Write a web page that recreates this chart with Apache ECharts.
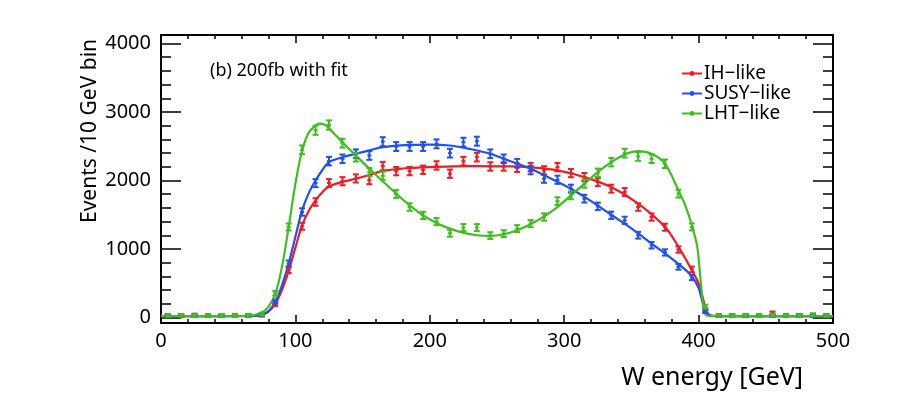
<!DOCTYPE html>
<html>
<head>
<meta charset="utf-8">
<script src="https://cdn.jsdelivr.net/npm/echarts@6/dist/echarts.min.js"></script>
<style>
  html, body { margin: 0; padding: 0; background: #fff; }
  #main { width: 913px; height: 399px; }
</style>
</head>
<body>
<div id="main"></div>
<script>
// bin centres (10 GeV bins)
var binX = [5, 15, 25, 35, 45, 55, 65, 75, 85, 95,
  105, 115, 125, 135, 145, 155, 165, 175, 185, 195,
  205, 215, 225, 235, 245, 255, 265, 275, 285, 295,
  305, 315, 325, 335, 345, 355, 365, 375, 385, 395,
  405, 415, 425, 435, 445, 455, 465, 475, 485, 495];

var ihData = [30, 25, 35, 28, 30, 33, 30, 35, 196, 690,
  1332, 1686, 1962, 1990, 2030, 2005, 2210, 2137, 2137, 2157,
  2220, 2099, 2283, 2341, 2205, 2205, 2186, 2195, 2147, 2195,
  2108, 2050, 1977, 1881, 1832, 1613, 1467, 1318, 993, 702,
  110, 28, 30, 26, 30, 65, 28, 30, 35, 30];

var susyData = [30, 28, 32, 30, 27, 31, 30, 40, 230, 789,
  1540, 1962, 2283, 2317, 2390, 2365, 2567, 2496, 2496, 2496,
  2535, 2399, 2559, 2574, 2390, 2317, 2253, 2152, 2026, 2011,
  1881, 1735, 1623, 1492, 1419, 1201, 1055, 950, 740, 585,
  90, 30, 28, 31, 30, 29, 32, 30, 28, 30];

var lhtData = [30, 32, 28, 30, 31, 29, 33, 50, 356, 1322,
  2448, 2734, 2810, 2545, 2340, 2122, 2070, 1803, 1613, 1490,
  1400, 1230, 1313, 1313, 1196, 1225, 1298, 1371, 1467, 1700,
  1783, 1953, 2113, 2268, 2399, 2351, 2317, 2244, 1808, 1322,
  160, 30, 28, 32, 30, 35, 30, 28, 40, 30];

// fit curves: [W energy, events]
var ihFit = [[0, 20], [70, 22], [75, 40], [80, 90], [85, 200], [90, 400], [95, 680], [100, 1020],
  [105, 1346], [110, 1560], [115, 1710], [120, 1830], [125, 1914], [135, 1980], [145, 2026],
  [155, 2080], [165, 2140], [180, 2175], [200, 2195], [230, 2210], [260, 2205], [280, 2185],
  [295, 2147], [315, 2050], [335, 1904], [355, 1662], [375, 1322], [385, 1031], [395, 691],
  [400, 498], [403, 300], [406, 80], [409, 30], [415, 20], [500, 20]];

var susyFit = [[0, 20], [70, 22], [75, 40], [80, 90], [85, 230], [90, 470], [95, 789], [100, 1180],
  [105, 1565], [110, 1820], [115, 2001], [120, 2150], [125, 2268], [135, 2340], [145, 2390],
  [155, 2440], [165, 2486], [185, 2521], [200, 2525], [215, 2511], [230, 2460], [245, 2390],
  [260, 2280], [275, 2172], [290, 2030], [305, 1880], [320, 1700], [335, 1500], [350, 1300],
  [365, 1080], [380, 860], [390, 700], [395, 600], [400, 430], [403, 220], [406, 60],
  [409, 30], [415, 20], [500, 20]];

var lhtFit = [[0, 20], [65, 22], [70, 40], [75, 70], [80, 160], [85, 340], [90, 740], [95, 1322],
  [100, 1953], [105, 2438], [110, 2700], [115, 2802], [118, 2830], [122, 2815], [125, 2760],
  [130, 2660], [135, 2559], [145, 2365], [155, 2172], [165, 1990], [175, 1808], [185, 1638],
  [195, 1492], [205, 1380], [215, 1298], [225, 1235], [235, 1201], [245, 1191], [255, 1215],
  [265, 1274], [275, 1361], [285, 1477], [295, 1613], [305, 1783], [315, 1953], [325, 2122],
  [335, 2268], [345, 2380], [355, 2428], [365, 2390], [375, 2244], [385, 1856], [390, 1640],
  [395, 1346], [399, 1031], [401.5, 546], [404, 109], [406.5, 25], [410, 20], [500, 20]];

var names = ['IH\u2212like', 'SUSY\u2212like', 'LHT\u2212like'];
var colors = ['#f01c24', '#2050f0', '#3fbf1f'];

var font = 'Noto Sans';
var yMin = -80, yMax = 4124;

function pairs(xs, ys) {
  var out = [];
  for (var i = 0; i < xs.length; i++) out.push([xs[i], ys[i]]);
  return out;
}

// data point with poisson error bar, drawn like ROOT's E1 style
function errRender(color) {
  return function (params, api) {
    var x = api.value(0), v = api.value(1), e = Math.sqrt(Math.max(v, 0));
    var c = api.coord([x, v]);
    var top = api.coord([x, v + e])[1];
    var bot = api.coord([x, v - e])[1];
    var st = { stroke: color, lineWidth: 2 };
    return {
      type: 'group',
      children: [
        { type: 'line', shape: { x1: c[0], y1: top - 1, x2: c[0], y2: bot + 1 }, style: st },
        { type: 'line', shape: { x1: c[0] - 3, y1: top - 1, x2: c[0] + 3, y2: top - 1 }, style: st },
        { type: 'line', shape: { x1: c[0] - 3, y1: bot + 1, x2: c[0] + 3, y2: bot + 1 }, style: st },
        { type: 'line', shape: { x1: c[0] - 2, y1: c[1], x2: c[0] + 2, y2: c[1] }, style: st }
      ]
    };
  };
}

function fitSeries(i, data) {
  return {
    name: names[i],
    type: 'line',
    data: data,
    smooth: 0.35,
    symbol: 'circle',
    symbolSize: 3,
    showSymbol: false,
    lineStyle: { color: colors[i], width: 2.2 },
    itemStyle: { color: colors[i] },
    z: 3 + i,
    silent: true,
    animation: false
  };
}

function pointSeries(i, vals) {
  return {
    name: names[i] + ' data',
    type: 'custom',
    data: pairs(binX, vals),
    renderItem: errRender(colors[i]),
    z: 6 + i,
    animation: false
  };
}

var tickLine = { color: '#000', width: 1.5 };
var frameLine = { show: true, onZero: false, lineStyle: { color: '#000', width: 2 } };
function plainNum(v) { return String(v); }

var chart = echarts.init(document.getElementById('main'));
chart.setOption({
  backgroundColor: '#fff',
  animation: false,
  title: {
    text: '(b) 200fb with fit',
    left: 205, top: 57,
    textStyle: { fontFamily: font, fontSize: 18, fontWeight: 'normal', color: '#000' }
  },
  legend: {
    data: names,
    orient: 'vertical',
    left: 676, top: 59,
    itemWidth: 20, itemHeight: 6, itemGap: 1,
    textStyle: { fontFamily: font, fontSize: 19, color: '#000', padding: [0, 0, 0, -3] }
  },
  grid: { left: 161, top: 35, width: 672, height: 288, containLabel: false, outerBoundsMode: 'none' },
  xAxis: [{
    type: 'value', position: 'bottom', min: 0, max: 500, interval: 100,
    name: 'W energy [GeV]', nameLocation: 'end', nameGap: -30,
    nameTextStyle: { fontFamily: font, fontSize: 25, color: '#000', align: 'right', verticalAlign: 'top', padding: [42, 0, 0, 0] },
    axisLine: frameLine,
    axisTick: { show: true, inside: true, length: 8, lineStyle: tickLine },
    minorTick: { show: true, splitNumber: 5, length: 4, lineStyle: tickLine },
    axisLabel: { fontFamily: font, fontSize: 20, color: '#000', margin: 8, formatter: plainNum },
    splitLine: { show: false }
  }, {
    type: 'value', position: 'top', min: 0, max: 500, interval: 100,
    axisLine: frameLine,
    axisTick: { show: true, inside: true, length: 8, lineStyle: tickLine },
    minorTick: { show: true, splitNumber: 5, length: 4, lineStyle: tickLine },
    axisLabel: { show: false },
    splitLine: { show: false }
  }],
  yAxis: [{
    type: 'value', position: 'left', min: yMin, max: yMax, splitNumber: 4,
    name: 'Events /10 GeV bin', nameLocation: 'middle', nameGap: 60, nameMoveOverlap: false,
    nameTextStyle: { fontFamily: font, fontSize: 21, color: '#000', padding: [0, 0, 0, 96] },
    axisLine: frameLine,
    axisTick: { show: true, inside: true, length: 20, lineStyle: tickLine },
    minorTick: { show: true, splitNumber: 5, length: 10, lineStyle: tickLine },
    axisLabel: { fontFamily: font, fontSize: 20, color: '#000', margin: 10, showMinLabel: false, showMaxLabel: false, formatter: plainNum },
    splitLine: { show: false }
  }, {
    type: 'value', position: 'right', min: yMin, max: yMax, splitNumber: 4,
    axisLine: frameLine,
    axisTick: { show: true, inside: true, length: 20, lineStyle: tickLine },
    minorTick: { show: true, splitNumber: 5, length: 10, lineStyle: tickLine },
    axisLabel: { show: false },
    splitLine: { show: false }
  }],
  series: [
    fitSeries(0, ihFit), fitSeries(1, susyFit), fitSeries(2, lhtFit),
    pointSeries(0, ihData), pointSeries(1, susyData), pointSeries(2, lhtData)
  ]
});
</script>
</body>
</html>
